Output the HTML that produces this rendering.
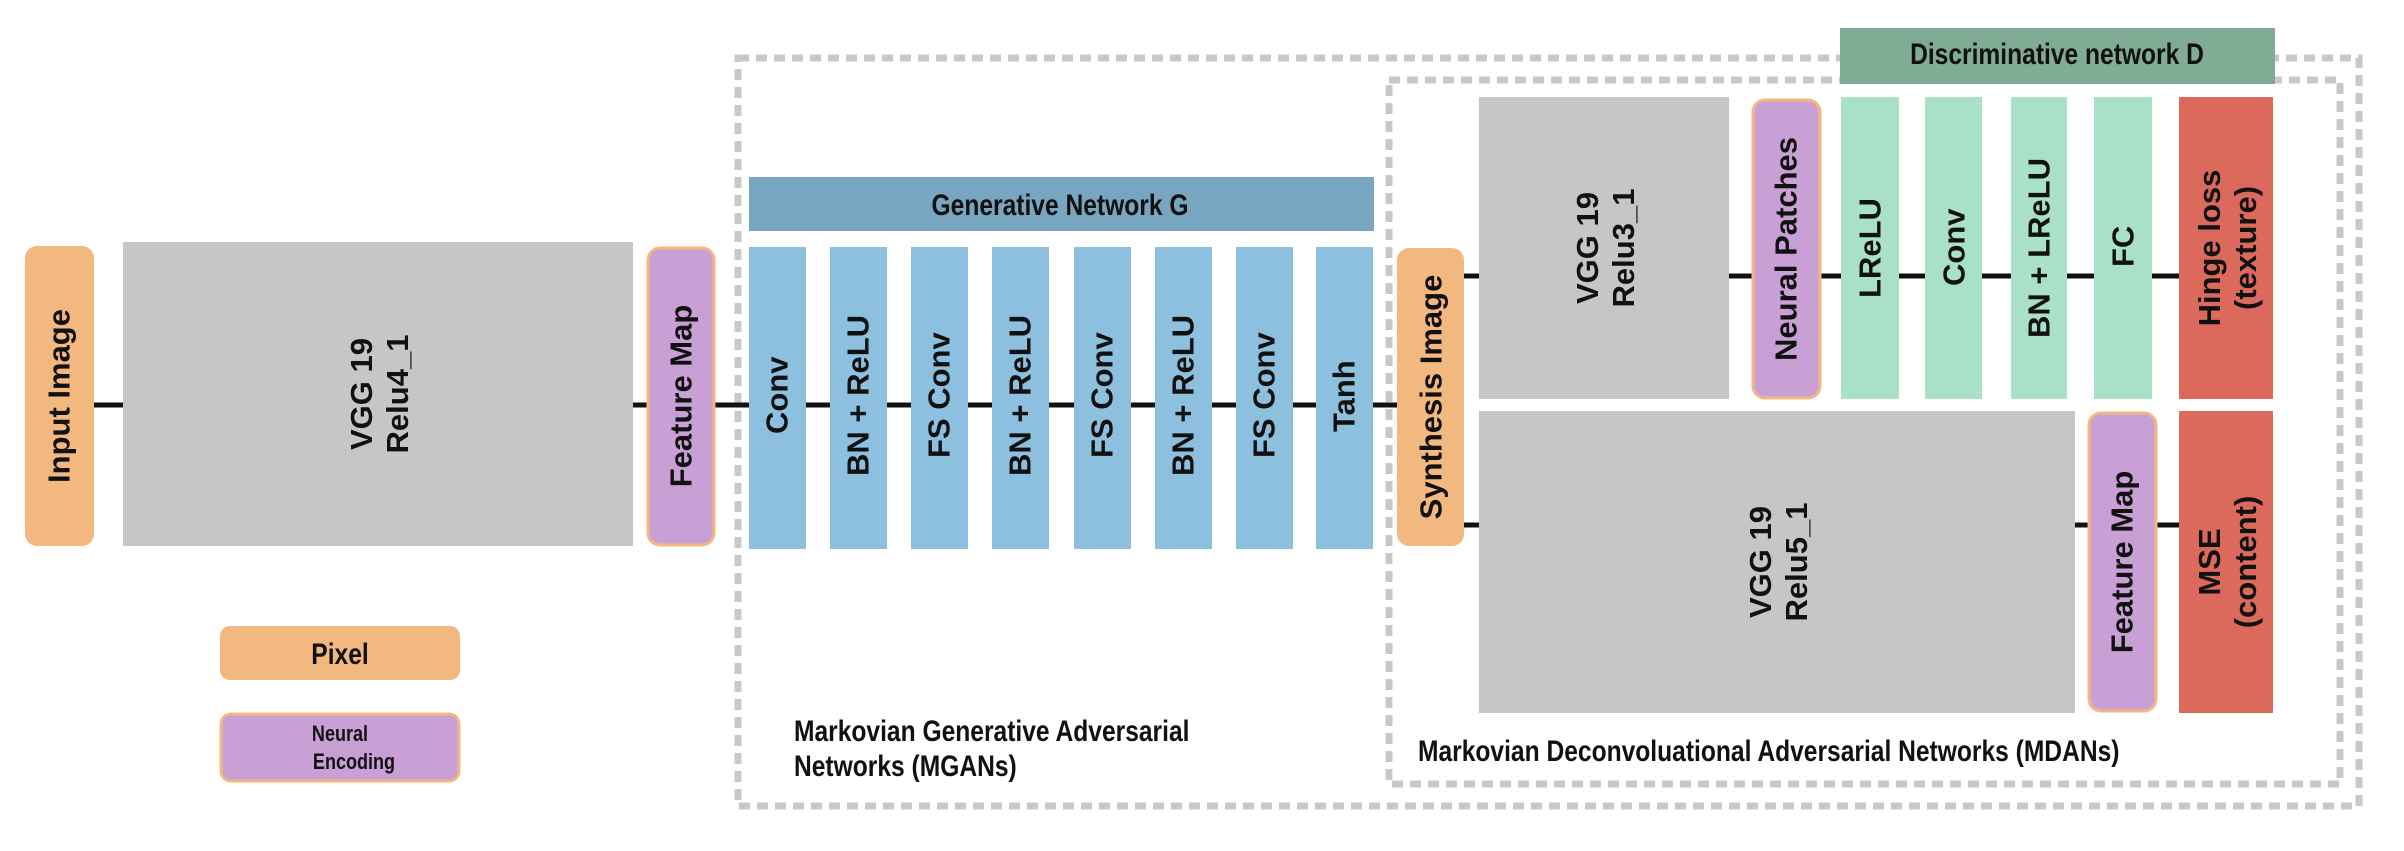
<!DOCTYPE html>
<html><head><meta charset="utf-8"><style>
html,body{margin:0;padding:0;background:#fff;}
svg text{font-family:"Liberation Sans",sans-serif;font-weight:bold;fill:#111;}
</style></head><body>
<svg width="2404" height="846" viewBox="0 0 2404 846" xmlns="http://www.w3.org/2000/svg">
<!-- dashed boxes -->
<rect x="738" y="58" width="1621" height="748" fill="none" stroke="#c8c8c8" stroke-width="7" stroke-dasharray="11 7"/>
<rect x="1389" y="80" width="951" height="704" fill="none" stroke="#c8c8c8" stroke-width="7" stroke-dasharray="11 7"/>
<!-- connectors -->
<g stroke="#111" stroke-width="5">
<line x1="94" y1="405" x2="1397" y2="405"/>
<line x1="1464" y1="276" x2="2179" y2="276"/>
<line x1="1464" y1="525" x2="2179" y2="525"/>
</g>
<!-- left -->
<rect x="25" y="246" width="69" height="300" rx="12" fill="#f2b880"/>
<text transform="translate(59,396) rotate(-90)" text-anchor="middle" dominant-baseline="central" font-size="31">Input Image</text>
<rect x="123" y="242" width="510" height="304" fill="#c6c6c6"/>
<text transform="translate(378,394) rotate(-90)" text-anchor="middle" font-size="31"><tspan x="0" y="-6">VGG 19</tspan><tspan x="0" y="30">Relu4_1</tspan></text>
<rect x="648" y="248" width="66" height="297" rx="12" fill="#c9a0d6" stroke="#f2b880" stroke-width="3"/>
<text transform="translate(681,396) rotate(-90)" text-anchor="middle" dominant-baseline="central" font-size="31">Feature Map</text>
<!-- legend -->
<rect x="220" y="626" width="240" height="54" rx="10" fill="#f2b880"/>
<text x="340" y="664" text-anchor="middle" font-size="30" transform="translate(340,0) scale(0.82,1) translate(-340,0)">Pixel</text>
<rect x="221" y="714" width="238" height="67" rx="10" fill="#c9a0d6" stroke="#f2b880" stroke-width="3"/>
<text x="340" y="741" text-anchor="middle" font-size="22" transform="translate(340,0) scale(0.82,1) translate(-340,0)">Neural</text>
<text x="354" y="769" text-anchor="middle" font-size="22" transform="translate(354,0) scale(0.82,1) translate(-354,0)">Encoding</text>
<!-- generative -->
<rect x="749" y="177" width="625" height="54" fill="#78a6c0"/>
<text x="1060" y="215" text-anchor="middle" font-size="30" transform="translate(1060,0) scale(0.82,1) translate(-1060,0)">Generative Network G</text>
<g fill="#8dbfdf">
<rect x="749" y="247" width="57" height="302"/><rect x="830" y="247" width="57" height="302"/>
<rect x="911" y="247" width="57" height="302"/><rect x="992" y="247" width="57" height="302"/>
<rect x="1074" y="247" width="57" height="302"/><rect x="1155" y="247" width="57" height="302"/>
<rect x="1236" y="247" width="57" height="302"/><rect x="1316" y="247" width="57" height="302"/>
</g>
<g font-size="31" text-anchor="start" dominant-baseline="central">
<text transform="translate(777,434) rotate(-90)">Conv</text>
<text transform="translate(858,476) rotate(-90)">BN + ReLU</text>
<text transform="translate(939,458) rotate(-90)">FS Conv</text>
<text transform="translate(1020,476) rotate(-90)">BN + ReLU</text>
<text transform="translate(1102,458) rotate(-90)">FS Conv</text>
<text transform="translate(1183,476) rotate(-90)">BN + ReLU</text>
<text transform="translate(1264,458) rotate(-90)">FS Conv</text>
<text transform="translate(1344,432) rotate(-90)">Tanh</text>
</g>
<text x="794" y="741" font-size="30" transform="translate(794,0) scale(0.82,1) translate(-794,0)">Markovian Generative Adversarial</text>
<text x="794" y="776" font-size="30" transform="translate(794,0) scale(0.82,1) translate(-794,0)">Networks (MGANs)</text>
<!-- synthesis -->
<rect x="1397" y="248" width="67" height="298" rx="12" fill="#f2b880"/>
<text transform="translate(1431,397) rotate(-90)" text-anchor="middle" dominant-baseline="central" font-size="31">Synthesis Image</text>
<!-- discriminative -->
<rect x="1840" y="28" width="435" height="56" fill="#80ab94"/>
<text x="2057" y="64" text-anchor="middle" font-size="30" transform="translate(2057,0) scale(0.82,1) translate(-2057,0)">Discriminative network D</text>
<rect x="1479" y="97" width="250" height="302" fill="#c6c6c6"/>
<text transform="translate(1604,248) rotate(-90)" text-anchor="middle" font-size="31"><tspan x="0" y="-6">VGG 19</tspan><tspan x="0" y="30">Relu3_1</tspan></text>
<rect x="1753" y="100" width="67" height="298" rx="12" fill="#c9a0d6" stroke="#f2b880" stroke-width="3"/>
<text transform="translate(1786,249) rotate(-90)" text-anchor="middle" dominant-baseline="central" font-size="31">Neural Patches</text>
<g fill="#a8e0c8">
<rect x="1841" y="97" width="58" height="302"/><rect x="1925" y="97" width="57" height="302"/>
<rect x="2011" y="97" width="56" height="302"/><rect x="2094" y="97" width="58" height="302"/>
</g>
<g font-size="31" dominant-baseline="central">
<text transform="translate(1870,298) rotate(-90)">LReLU</text>
<text transform="translate(1954,286) rotate(-90)">Conv</text>
<text transform="translate(2039,338) rotate(-90)">BN + LReLU</text>
<text transform="translate(2123,267) rotate(-90)">FC</text>
</g>
<rect x="2179" y="97" width="94" height="302" fill="#dc6a5c"/>
<text transform="translate(2226,248) rotate(-90)" text-anchor="middle" font-size="31"><tspan x="0" y="-6">Hinge loss</tspan><tspan x="0" y="30">(texture)</tspan></text>
<rect x="1479" y="411" width="596" height="302" fill="#c6c6c6"/>
<text transform="translate(1777,562) rotate(-90)" text-anchor="middle" font-size="31"><tspan x="0" y="-6">VGG 19</tspan><tspan x="0" y="30">Relu5_1</tspan></text>
<rect x="2089" y="413" width="67" height="298" rx="12" fill="#c9a0d6" stroke="#f2b880" stroke-width="3"/>
<text transform="translate(2122,562) rotate(-90)" text-anchor="middle" dominant-baseline="central" font-size="31">Feature Map</text>
<rect x="2179" y="411" width="94" height="302" fill="#dc6a5c"/>
<text transform="translate(2226,562) rotate(-90)" text-anchor="middle" font-size="31"><tspan x="0" y="-6">MSE</tspan><tspan x="0" y="30">(content)</tspan></text>
<text x="1418" y="761" font-size="30" transform="translate(1418,0) scale(0.82,1) translate(-1418,0)">Markovian Deconvoluational Adversarial Networks (MDANs)</text>
</svg>
</body></html>
